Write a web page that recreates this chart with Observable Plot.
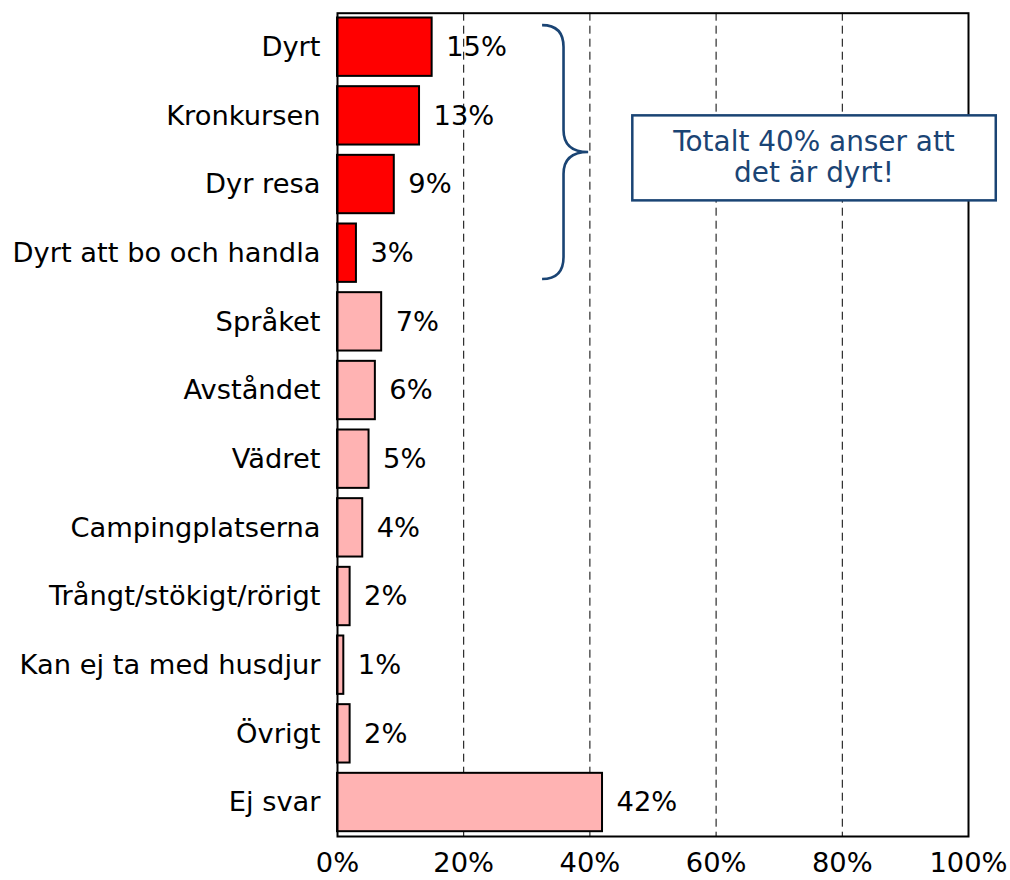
<!DOCTYPE html>
<html><head><meta charset="utf-8">
<script src="https://cdn.jsdelivr.net/npm/d3@7"></script>
<script src="https://cdn.jsdelivr.net/npm/@observablehq/plot@0.6"></script>
<style>body{margin:0;background:#fff}</style>
</head><body><div id="chart"></div>
<script>
const categories = ["Dyrt","Kronkursen","Dyr resa","Dyrt att bo och handla","Språket","Avståndet","Vädret","Campingplatserna","Trångt/stökigt/rörigt","Kan ej ta med husdjur","Övrigt","Ej svar"];
const values = [15,13,9,3,7,6,5,4,2,1,2,42];
const groups = ["dyrt","dyrt","dyrt","dyrt","ovrigt","ovrigt","ovrigt","ovrigt","ovrigt","ovrigt","ovrigt","ovrigt"];
const xTicks = [0,20,40,60,80,100];
const gridTicks = [20,40,60,80];
const annotationLines = ["Totalt 40% anser att","det är dyrt!"];
const braceFrom = "Dyrt", braceTo = "Dyrt att bo och handla";
const boxTopCat = "Kronkursen", boxBottomCat = "Dyr resa";

const data = categories.map((c,i)=>({category:c, value:values[i], group:groups[i]}));
const FS = 27.3;
const NAVY = "#1A4474";

function annotation(index, scales) {
  const x = scales.x, y = scales.y;
  const bw = y.bandwidth ? y.bandwidth() : 58;
  const g = d3.create("svg:g");
  const yTop = y(braceFrom) + bw*0.13, yBot = y(braceTo) + bw*0.95;
  const yMid = (yTop + yBot)/2;
  const x0 = x(32.5), xs = x(35.9), x1 = x(39.8), r = 22;
  const p = `M${x0},${yTop} Q${xs},${yTop} ${xs},${yTop+r} L${xs},${yMid-r} Q${xs},${yMid} ${x1},${yMid} Q${xs},${yMid} ${xs},${yMid+r} L${xs},${yBot-r} Q${xs},${yBot} ${x0},${yBot}`;
  g.append("path").attr("d", p).attr("fill","none").attr("stroke",NAVY).attr("stroke-width",2.6);
  const bx1 = x(46.8), bx2 = x(104.4);
  const by1 = y(boxTopCat) + bw/2, by2 = y(boxBottomCat) + bw/2 + bw*0.28;
  g.append("rect").attr("x",bx1).attr("y",by1).attr("width",bx2-bx1).attr("height",by2-by1)
    .attr("fill","#fff").attr("stroke",NAVY).attr("stroke-width",2.5);
  const cx = (bx1+bx2)/2, cy = (by1+by2)/2;
  const t = g.append("text").attr("fill",NAVY).attr("text-anchor","middle")
    .attr("font-size",27.9).attr("font-family","DejaVu Sans, Verdana, sans-serif");
  annotationLines.forEach((s,i)=>{
    t.append("tspan").attr("x",cx).attr("y", cy - 6.7 + i*31.3).text(s);
  });
  return g.node();
}

const chart = Plot.plot({
  width: 1010, height: 880,
  marginLeft: 337, marginRight: 42, marginTop: 12.7, marginBottom: 44,
  style: {fontFamily: "DejaVu Sans, Verdana, sans-serif", fontSize: FS + "px", color: "#000", background: "#fff"},
  x: {domain: [0,100], ticks: xTicks, tickFormat: d => d + "%", label: null, tickSize: 0, tickPadding: 16.5},
  y: {domain: categories, paddingInner: 0.15, paddingOuter: 0.07, round: false, label: null, tickSize: 0, tickPadding: 17},
  color: {domain: ["dyrt","ovrigt"], range: ["#FF0000","#FFB3B3"]},
  marks: [
    Plot.ruleX(gridTicks, {stroke: "#000", strokeWidth: 1, strokeDasharray: "8,5"}),
    Plot.barX(data, {x: "value", y: "category", fill: "group", stroke: "#000", strokeWidth: 2}),
    Plot.text(data, {x: "value", y: "category", text: d => d.value + "%", textAnchor: "start", dx: 14, fill: "#000"}),
    Plot.frame({stroke: "#000", strokeWidth: 2}),
    annotation
  ]
});
document.getElementById("chart").appendChild(chart);
</script>
</body></html>
